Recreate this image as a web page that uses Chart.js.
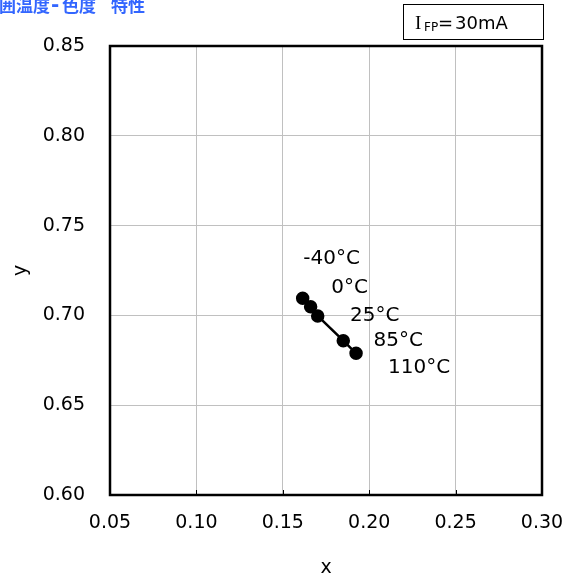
<!DOCTYPE html>
<html>
<head>
<meta charset="utf-8">
<script src="https://cdn.jsdelivr.net/npm/chart.js@4/dist/chart.umd.min.js"></script>
<style>
    html, body { margin: 0; padding: 0; background: #fff; }
    #wrap { width: 574px; height: 579px; }
</style>
</head>
<body>
<div id="wrap"><canvas id="chromaChart"></canvas></div>
<script>
// data
const tempLabels = ["-40°C", "0°C", "25°C", "85°C", "110°C"];
const chromaX = [0.1615, 0.1661, 0.1702, 0.1850, 0.1924];
const chromaY = [0.7095, 0.7048, 0.6997, 0.6859, 0.6789];
const xTicks = [0.05, 0.10, 0.15, 0.20, 0.25, 0.30];
const yTicks = [0.60, 0.65, 0.70, 0.75, 0.80, 0.85];

// title pieces, the first one runs off the left edge
const titleParts = ["周囲温度", "-", "色度", "特性"];
const titleLefts = [-18, 51, 62, 111];

// label position relative to its point, px
const labelOffsets = [[29, -40], [39, -19], [57, 0], [55, 0], [63, 15]];

const FONT = "'DejaVu Sans', Verdana, sans-serif";

const points = chromaX.map((x, i) => ({ x: x, y: chromaY[i] }));

const decorPlugin = {
    id: "decor",
    afterDraw(chart) {
        const ctx = chart.ctx;
        const area = chart.chartArea;
        const xs = chart.scales.x;
        const ys = chart.scales.y;

        ctx.save();

        // small inner tick marks on bottom axis
        ctx.strokeStyle = "#000";
        ctx.lineWidth = 1;
        xTicks.forEach(v => {
            const px = Math.round(xs.getPixelForValue(v)) + 0.5;
            ctx.beginPath();
            ctx.moveTo(px, area.bottom);
            ctx.lineTo(px, area.bottom - 5);
            ctx.stroke();
        });

        // frame
        ctx.lineWidth = 2.5;
        ctx.strokeRect(area.left, area.top, area.right - area.left, area.bottom - area.top);

        // temperature labels
        ctx.fillStyle = "#000";
        ctx.font = "20px " + FONT;
        ctx.textAlign = "center";
        ctx.textBaseline = "middle";
        tempLabels.forEach((t, i) => {
            const px = xs.getPixelForValue(chromaX[i]) + labelOffsets[i][0];
            const py = ys.getPixelForValue(chromaY[i]) + labelOffsets[i][1];
            ctx.fillText(t, px, py);
        });

        // title
        ctx.fillStyle = "#3366ff";
        ctx.textAlign = "left";
        titleParts.forEach((t, i) => {
            ctx.font = t === "-" ? "bold 20px 'DejaVu Sans'" : "bold 17px 'Noto Sans CJK JP'";
            ctx.fillText(t, titleLefts[i], 6);
        });

        // condition box
        ctx.strokeStyle = "#000";
        ctx.lineWidth = 1;
        ctx.strokeRect(403.5, 4.5, 140, 35);
        ctx.fillStyle = "#000";
        ctx.textBaseline = "alphabetic";
        ctx.font = "19px 'Liberation Serif', serif";
        ctx.fillText("I", 415, 29);
        ctx.font = "12px " + FONT;
        ctx.fillText("FP", 424, 31);
        ctx.font = "18px " + FONT;
        ctx.fillText("=", 438, 29);
        ctx.fillText("30mA", 455, 29);

        ctx.restore();
    }
};

new Chart(document.getElementById("chromaChart"), {
    type: "scatter",
    data: {
        datasets: [{
            data: points,
            showLine: true,
            borderColor: "#000",
            borderWidth: 2.5,
            backgroundColor: "#000",
            pointRadius: 5.5,
            pointHoverRadius: 5.5
        }]
    },
    options: {
        responsive: true,
        maintainAspectRatio: false,
        animation: false,
        layout: {
            padding: { left: 0, top: 46, right: 32, bottom: 0 }
        },
        plugins: {
            legend: { display: false },
            tooltip: { enabled: false }
        },
        scales: {
            x: {
                type: "linear",
                min: 0.05,
                max: 0.30,
                afterBuildTicks: (scale) => {
                    scale.ticks = xTicks.map(v => ({ value: v }));
                },
                afterFit: (scale) => {
                    scale.height = 84;
                    scale.paddingLeft = 0;
                    scale.paddingRight = 0;
                },
                grid: { color: "#c0c0c0", drawTicks: false },
                border: { display: false },
                ticks: {
                    color: "#000",
                    padding: 17,
                    maxRotation: 0,
                    font: { family: FONT, size: 19 },
                    callback: (v) => Number(v).toFixed(2)
                },
                title: {
                    display: true,
                    text: "x",
                    color: "#000",
                    font: { family: FONT, size: 19 },
                    padding: { top: 0, bottom: 0 }
                }
            },
            y: {
                type: "linear",
                min: 0.60,
                max: 0.85,
                afterBuildTicks: (scale) => {
                    scale.ticks = yTicks.map(v => ({ value: v }));
                },
                afterFit: (scale) => {
                    scale.width = 110;
                    scale.paddingTop = 0;
                    scale.paddingBottom = 0;
                },
                grid: { color: "#c0c0c0", drawTicks: false },
                border: { display: false },
                ticks: {
                    color: "#000",
                    padding: 25,
                    font: { family: FONT, size: 19 },
                    callback: (v) => Number(v).toFixed(2)
                },
                title: {
                    display: true,
                    text: "y",
                    color: "#000",
                    font: { family: FONT, size: 19 },
                    padding: { top: 10, bottom: 0 }
                }
            }
        }
    },
    plugins: [decorPlugin]
});
</script>
</body>
</html>
